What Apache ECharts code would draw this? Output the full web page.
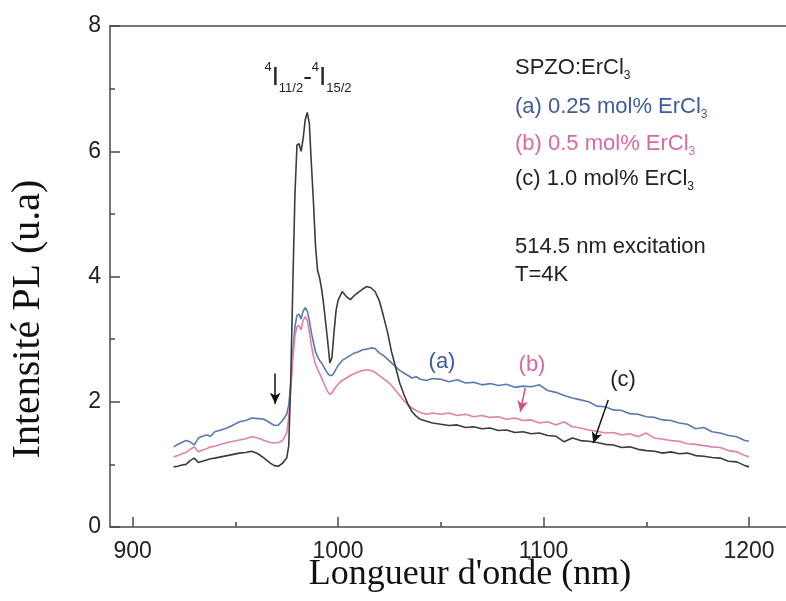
<!DOCTYPE html>
<html>
<head>
<meta charset="utf-8">
<script src="https://cdn.jsdelivr.net/npm/echarts@6/dist/echarts.min.js"></script>
<style>html,body{margin:0;padding:0;background:#fff;}#c{width:786px;height:601px;}</style>
</head>
<body>
<div id="c"></div>
<script>
// Wavelength sample points (nm)
const wavelengths = [
  920,922,924,926,928,930,932,934,936,938,940,943,946,949,952,955,958,961,964,967,969,971,973,975,
  976,977,978,979,980,981,982,983,984,985,986,987,988,989,990,991,992,993,994,995,996,997,998,999,1000,
  1002,1004,1006,1008,1010,1012,1014,1016,1018,1020,1022,1024,1026,1028,1030,1032,1034,1036,1038,1040,1043,1046,
  1050,1054,1058,1062,1066,1070,1074,1078,1082,1086,1090,1094,1098,1102,1106,1110,1114,1118,1122,1126,
  1130,1134,1138,1142,1146,1150,1154,1158,1162,1166,1170,1174,1178,1182,1186,1190,1194,1198,1200
];
// (a) 0.25 mol% ErCl3
const seriesA = [
  1.28,1.32,1.35,1.38,1.36,1.31,1.42,1.45,1.47,1.45,1.52,1.55,1.58,1.63,1.68,1.70,1.74,1.73,1.72,1.66,1.62,1.63,1.70,1.80,
  1.95,2.30,2.80,3.20,3.38,3.40,3.32,3.45,3.50,3.45,3.30,3.10,2.95,2.80,2.72,2.66,2.62,2.56,2.50,2.45,2.42,2.42,2.46,2.52,2.58,
  2.66,2.70,2.74,2.78,2.80,2.83,2.84,2.86,2.85,2.78,2.74,2.68,2.62,2.56,2.50,2.46,2.42,2.38,2.40,2.36,2.34,2.37,
  2.36,2.32,2.35,2.30,2.31,2.27,2.29,2.26,2.28,2.23,2.25,2.24,2.27,2.18,2.15,2.10,2.06,2.03,2.00,1.93,
  1.92,1.87,1.86,1.81,1.80,1.76,1.75,1.71,1.70,1.66,1.64,1.57,1.59,1.52,1.50,1.46,1.44,1.38,1.37
];
// (b) 0.5 mol% ErCl3
const seriesB = [
  1.12,1.14,1.17,1.19,1.24,1.28,1.20,1.23,1.25,1.28,1.29,1.32,1.35,1.37,1.39,1.41,1.44,1.42,1.38,1.35,1.34,1.35,1.38,1.50,
  1.75,2.20,2.70,3.05,3.20,3.22,3.15,3.30,3.36,3.30,3.12,2.90,2.72,2.60,2.52,2.45,2.38,2.30,2.22,2.16,2.12,2.14,2.20,2.24,2.28,
  2.34,2.38,2.42,2.45,2.48,2.50,2.51,2.50,2.47,2.42,2.37,2.32,2.26,2.18,2.10,2.02,1.95,1.90,1.86,1.83,1.80,1.82,
  1.80,1.82,1.78,1.80,1.76,1.78,1.75,1.76,1.72,1.74,1.70,1.71,1.66,1.68,1.63,1.68,1.60,1.58,1.55,1.53,
  1.50,1.51,1.47,1.49,1.44,1.50,1.42,1.40,1.38,1.37,1.33,1.32,1.30,1.28,1.27,1.22,1.20,1.14,1.12
];
// (c) 1.0 mol% ErCl3
const seriesC = [
  0.96,0.97,0.99,1.00,1.06,1.10,1.03,1.05,1.07,1.09,1.10,1.12,1.14,1.16,1.18,1.19,1.21,1.17,1.10,1.02,0.98,0.97,1.02,1.10,
  1.30,2.40,3.90,5.30,6.10,6.12,6.00,6.20,6.50,6.62,6.45,5.80,5.20,4.50,4.10,3.98,3.80,3.55,3.25,2.95,2.62,2.70,3.10,3.45,3.62,
  3.76,3.68,3.63,3.70,3.75,3.80,3.84,3.82,3.76,3.62,3.38,3.12,2.80,2.55,2.30,2.12,1.96,1.84,1.77,1.72,1.69,1.66,
  1.64,1.62,1.63,1.59,1.60,1.57,1.58,1.54,1.55,1.51,1.52,1.49,1.50,1.46,1.45,1.36,1.42,1.38,1.37,1.35,
  1.32,1.31,1.27,1.28,1.24,1.22,1.21,1.18,1.20,1.17,1.18,1.14,1.13,1.11,1.10,1.05,1.04,0.98,0.96
];
const xMajorTicks = [900, 1000, 1100, 1200];
const xMinorTicks = [950, 1050, 1150];
// annotation arrows in data space [x1,y1,x2,y2]
const arrowPeak = [969.4, 2.45, 969.4, 1.97];
const arrowB = [1091.1, 2.22, 1088.7, 1.84];
const arrowC = [1131.5, 2.03, 1124.2, 1.34];

const colA = '#5b78b4', colB = '#e080b0', colC = '#3c3c3c';
const txtBlue = '#3d5c9e', txtPink = '#d76aa2', txtDark = '#222';
const sans = 'Liberation Sans, Arial, sans-serif';
const serif = 'Liberation Serif, Times New Roman, serif';

function pairs(ys) { return wavelengths.map((x, i) => [x, ys[i]]); }
function arrow(a, color) {
  return {
    silent: true, symbol: ['none', 'arrow'], symbolSize: [8, 11], animation: false,
    label: { show: false }, lineStyle: { color: color, width: 1.5, type: 'solid' },
    data: [[{ coord: [a[0], a[1]] }, { coord: [a[2], a[3]] }]]
  };
}
const axisCol = '#4a4a4a';
const chart = echarts.init(document.getElementById('c'));
const sub = { fontSize: 12, lineHeight: 13, verticalAlign: 'bottom', fontFamily: sans };
function legendText(str, color, y) {
  return {
    type: 'text', x: 515, y: y,
    style: {
      text: '{m|' + str + '}{s|3}', verticalAlign: 'middle', align: 'left',
      rich: {
        m: { fontSize: 22, lineHeight: 28, fontFamily: sans, fill: color },
        s: Object.assign({ fill: color }, sub)
      }
    }
  };
}
chart.setOption({
  animation: false,
  backgroundColor: '#fff',
  grid: { left: 110, right: 0, top: 26, bottom: 74 },
  xAxis: [
    {
      type: 'value', min: 889, max: 1218, position: 'bottom',
      axisLine: { show: true, lineStyle: { color: axisCol, width: 1.5 } },
      axisTick: { show: true, inside: true, length: 10, customValues: xMajorTicks, lineStyle: { color: axisCol, width: 1.5 } },
      axisLabel: { customValues: xMajorTicks, fontSize: 23, color: txtDark, fontFamily: sans, margin: 13,
        formatter: function (v) { return String(v); } },
      splitLine: { show: false }
    },
    {
      type: 'value', min: 889, max: 1218, position: 'bottom',
      axisLine: { show: false },
      axisTick: { show: true, inside: true, length: 5, customValues: xMinorTicks, lineStyle: { color: axisCol, width: 1.5 } },
      axisLabel: { show: false }, splitLine: { show: false }
    },
    {
      type: 'value', min: 889, max: 1218, position: 'top',
      axisLine: { show: true, lineStyle: { color: axisCol, width: 1.5 } },
      axisTick: { show: false }, axisLabel: { show: false }, splitLine: { show: false }
    }
  ],
  yAxis: {
    type: 'value', min: 0, max: 8, interval: 2,
    axisLine: { show: true, lineStyle: { color: axisCol, width: 1.5 } },
    axisTick: { show: true, inside: true, length: 10, lineStyle: { color: axisCol, width: 1.5 } },
    minorTick: { show: true, splitNumber: 2, length: 5, lineStyle: { color: axisCol, width: 1.5 } },
    axisLabel: { fontSize: 23, color: txtDark, fontFamily: sans, margin: 9 },
    splitLine: { show: false }
  },
  series: [
    { name: '(a)', type: 'line', data: pairs(seriesA), showSymbol: false, symbol: 'none',
      lineStyle: { color: colA, width: 1.6 }, itemStyle: { color: colA } },
    { name: '(b)', type: 'line', data: pairs(seriesB), showSymbol: false, symbol: 'none',
      lineStyle: { color: colB, width: 1.6 }, itemStyle: { color: colB },
      markLine: arrow(arrowB, '#d0508e') },
    { name: '(c)', type: 'line', data: pairs(seriesC), showSymbol: false, symbol: 'none',
      lineStyle: { color: colC, width: 1.6 }, itemStyle: { color: colC },
      markLine: {
        silent: true, symbol: ['none', 'arrow'], symbolSize: [8, 11], animation: false,
        label: { show: false }, lineStyle: { color: '#111', width: 1.5, type: 'solid' },
        data: [
          [{ coord: [arrowPeak[0], arrowPeak[1]] }, { coord: [arrowPeak[2], arrowPeak[3]] }],
          [{ coord: [arrowC[0], arrowC[1]] }, { coord: [arrowC[2], arrowC[3]] }]
        ]
      } }
  ],
  graphic: [
    { type: 'text', x: 28, y: 319, rotation: Math.PI / 2,
      style: { text: 'Intensité PL (u.a)', font: '40px ' + serif, fill: '#111', align: 'center', verticalAlign: 'middle' } },
    { type: 'text', x: 470, y: 575,
      style: { text: "Longueur d'onde (nm)", font: '36px ' + serif, fill: '#111', align: 'center', verticalAlign: 'middle' } },
    { type: 'text', x: 308, y: 78,
      style: {
        text: '{p|4}{m|I}{s|11/2}{m|-}{p|4}{m|I}{s|15/2}', align: 'center', verticalAlign: 'middle',
        rich: {
          m: { fontSize: 26, lineHeight: 34, fontFamily: sans, fill: txtDark },
          p: { fontSize: 13, lineHeight: 14, verticalAlign: 'top', fontFamily: sans, fill: txtDark },
          s: { fontSize: 13, lineHeight: 14, verticalAlign: 'bottom', fontFamily: sans, fill: txtDark }
        }
      } },
    legendText('SPZO:ErCl', txtDark, 68),
    legendText('(a) 0.25 mol% ErCl', txtBlue, 107),
    legendText('(b) 0.5 mol% ErCl', txtPink, 144),
    legendText('(c) 1.0 mol% ErCl', txtDark, 179),
    { type: 'text', x: 515, y: 247, style: { text: '514.5 nm excitation', font: '22px ' + sans, fill: txtDark, verticalAlign: 'middle' } },
    { type: 'text', x: 515, y: 275, style: { text: 'T=4K', font: '22px ' + sans, fill: txtDark, verticalAlign: 'middle' } },
    { type: 'text', x: 442, y: 362, style: { text: '(a)', font: '22px ' + sans, fill: txtBlue, align: 'center', verticalAlign: 'middle' } },
    { type: 'text', x: 532, y: 365, style: { text: '(b)', font: '22px ' + sans, fill: txtPink, align: 'center', verticalAlign: 'middle' } },
    { type: 'text', x: 623, y: 380, style: { text: '(c)', font: '22px ' + sans, fill: txtDark, align: 'center', verticalAlign: 'middle' } }
  ]
});
</script>
</body>
</html>
